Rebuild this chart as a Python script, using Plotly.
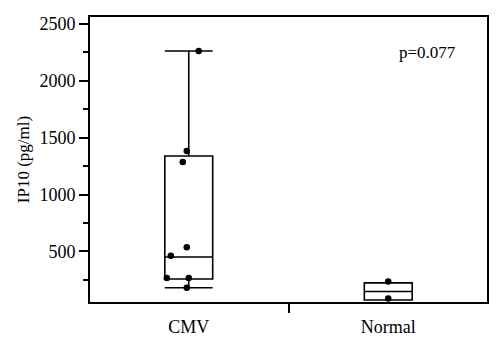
import plotly.graph_objects as go

# Data
groups = ["CMV", "Normal"]
group_pos = [0, 1]
q1 = [256, 72]
median = [450, 147]
q3 = [1339, 222]
lowerfence = [180, 72]
upperfence = [2263, 222]

cmv_values = [2263, 1383, 1286, 535, 460, 265, 265, 180]
cmv_jitter = [0.05, -0.01, -0.03, -0.01, -0.09, -0.11, 0.0, -0.01]
normal_values = [234, 84]
normal_jitter = [0.0, 0.0]

p_text = "p=0.077"
y_ticks = [500, 1000, 1500, 2000, 2500]

FONT = "Liberation Serif"

fig = go.Figure()
fig.add_trace(go.Box(
    x=group_pos, q1=q1, median=median, q3=q3,
    lowerfence=lowerfence, upperfence=upperfence,
    width=0.24, whiskerwidth=1,
    line=dict(color="black", width=1.6),
    fillcolor="rgba(0,0,0,0)",
    boxpoints=False, showlegend=False, hoverinfo="skip",
))

pts_x = [group_pos[0] + j for j in cmv_jitter] + [group_pos[1] + j for j in normal_jitter]
pts_y = cmv_values + normal_values
fig.add_trace(go.Scatter(
    x=pts_x, y=pts_y, mode="markers",
    marker=dict(color="black", size=6.5),
    showlegend=False,
))

fig.add_annotation(
    x=0.927, y=0.874, xref="paper", yref="paper",
    text=p_text, showarrow=False, xanchor="right", yanchor="middle",
    font=dict(family=FONT, size=17, color="black"),
)

# body has an 8px default margin in the page, so the figure is 8px smaller
fig.update_layout(
    width=492, height=336,
    margin=dict(l=82, r=13, t=9, b=42, autoexpand=False),
    paper_bgcolor="white", plot_bgcolor="white",
    font=dict(family=FONT, size=17, color="black"),
    xaxis=dict(
        range=[-0.495, 1.495],
        tickvals=group_pos, ticktext=groups,
        tickfont=dict(family=FONT, size=18),
        ticks="", ticklabelstandoff=8, automargin=False,
        showgrid=False, zeroline=False,
        showline=True, linecolor="black", linewidth=1.6, mirror=True,
        minor=dict(tickvals=[0.5], ticks="outside", ticklen=9, tickwidth=1.5,
                   tickcolor="black", showgrid=False),
    ),
    yaxis=dict(
        range=[54, 2562],
        tickvals=y_ticks, automargin=False,
        tickfont=dict(family=FONT, size=18),
        ticks="outside", ticklen=9, tickwidth=1.5, tickcolor="black",
        showgrid=False, zeroline=False,
        showline=True, linecolor="black", linewidth=1.6, mirror=True,
        minor=dict(dtick=250, tick0=250, ticks="outside", ticklen=5, tickwidth=1.5,
                   tickcolor="black", showgrid=False),
        title=dict(text="IP10 (pg/ml)", font=dict(family=FONT, size=17), standoff=6),
    ),
)

fig.write_html("out.html")
